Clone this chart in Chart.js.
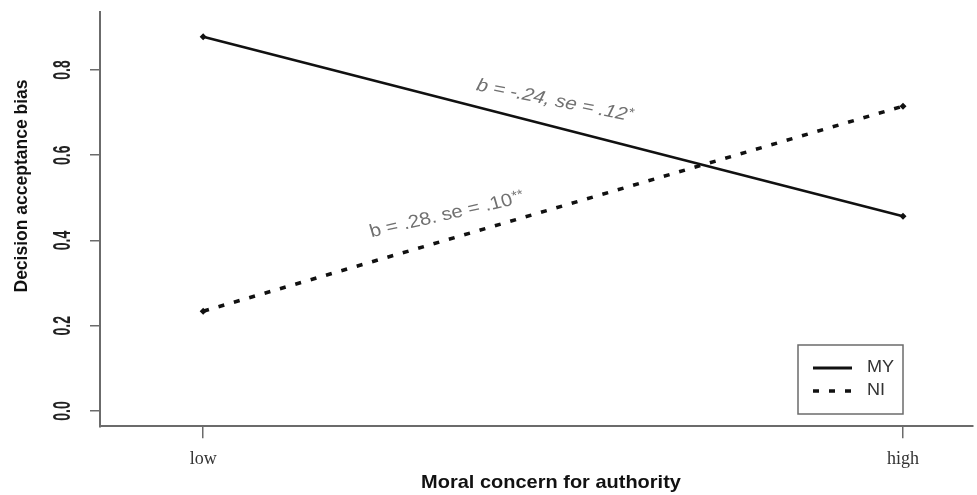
<!DOCTYPE html>
<html>
<head>
<meta charset="utf-8">
<script src="https://cdn.jsdelivr.net/npm/chart.js@4"></script>
<style>
  html, body { margin: 0; padding: 0; background: #ffffff; }
  #wrap { width: 977px; height: 495px; position: relative; }
</style>
</head>
<body>
<div id="wrap"><canvas id="c"></canvas></div>
<script>
// Simple slopes of decision acceptance bias at low / high moral concern for authority
const categories = ['low', 'high'];
const seriesNames = ['MY', 'NI'];
const myValues = [0.878, 0.457];
const niValues = [0.234, 0.715];
const yTickValues = [0.0, 0.2, 0.4, 0.6, 0.8];
const slopeTexts = ['b = -.24, se = .12', 'b = .28. se = .10'];
const slopeStars = ['*', '**'];
const xTitle = 'Moral concern for authority';
const yTitle = 'Decision acceptance bias';

const SANS = '"Liberation Sans", Arial, Helvetica, sans-serif';
const SERIF = '"Liberation Serif", "Times New Roman", Times, serif';
const AXIS_GREY = '#6b6b6b';
const SX = 1.13; // horizontal text widening used throughout the figure

function toPoints(values) {
  return values.map((v, i) => ({ x: i + 1, y: v }));
}

// Draws axis titles, rotated y tick labels, slope notes and the legend box
const figureText = {
  id: 'figureText',
  afterDraw(chart, args, opts) {
    const ctx = chart.ctx;
    const xs = chart.scales.x;
    const ys = chart.scales.y;

    // y tick labels, rotated and drawn tall
    ctx.save();
    ctx.fillStyle = '#222';
    ctx.font = 'bold 14px ' + SANS;
    ctx.textAlign = 'center';
    ctx.textBaseline = 'middle';
    ys.ticks.forEach(t => {
      const py = ys.getPixelForValue(t.value);
      ctx.save();
      ctx.translate(opts.yTickX, py);
      ctx.rotate(-Math.PI / 2);
      ctx.scale(1, 1.7);
      ctx.fillText(t.value.toFixed(1), 0, 0);
      ctx.restore();
    });
    ctx.restore();

    // y axis title
    ctx.save();
    ctx.fillStyle = '#111';
    ctx.font = 'bold 17.5px ' + SANS;
    ctx.textAlign = 'center';
    ctx.textBaseline = 'middle';
    ctx.translate(opts.yTitleX, opts.yTitleY);
    ctx.rotate(-Math.PI / 2);
    ctx.fillText(yTitle, 0, 0);
    ctx.restore();

    // x axis title
    ctx.save();
    ctx.fillStyle = '#111';
    ctx.font = 'bold 17.7px ' + SANS;
    ctx.textAlign = 'center';
    ctx.textBaseline = 'middle';
    ctx.translate(opts.xTitleX, opts.xTitleY);
    ctx.scale(SX, 1);
    ctx.fillText(xTitle, 0, 0);
    ctx.restore();

    // slope notes along each line
    opts.notes.forEach((n, i) => {
      const vals = chart.data.datasets[n.dataset].data;
      const p0x = xs.getPixelForValue(vals[0].x), p0y = ys.getPixelForValue(vals[0].y);
      const p1x = xs.getPixelForValue(vals[1].x), p1y = ys.getPixelForValue(vals[1].y);
      const yv = vals[0].y + (vals[1].y - vals[0].y) * (n.at - vals[0].x) / (vals[1].x - vals[0].x);
      const cx = xs.getPixelForValue(n.at);
      const cy = ys.getPixelForValue(yv) - n.lift;
      const angImg = Math.atan2(p1y - p0y, p1x - p0x);
      const ang = Math.atan(Math.tan(angImg) / SX);
      const style = n.italic ? 'italic ' : '';
      const mainFont = style + '18px ' + SANS;
      const starFont = style + '13px ' + SANS;
      ctx.save();
      ctx.fillStyle = '#707070';
      ctx.textBaseline = 'middle';
      ctx.textAlign = 'left';
      ctx.translate(cx, cy);
      ctx.scale(SX, 1);
      ctx.rotate(ang);
      ctx.font = mainFont;
      const w1 = ctx.measureText(slopeTexts[i]).width;
      ctx.font = starFont;
      const w2 = ctx.measureText(slopeStars[i]).width;
      const start = -(w1 + w2) / 2;
      ctx.font = mainFont;
      ctx.fillText(slopeTexts[i], start, 0);
      ctx.font = starFont;
      ctx.fillText(slopeStars[i], start + w1 + 0.5, -3);
      ctx.restore();
    });

    // legend box
    const lg = opts.legend;
    ctx.save();
    ctx.fillStyle = '#ffffff';
    ctx.fillRect(lg.x, lg.y, lg.w, lg.h);
    ctx.strokeStyle = AXIS_GREY;
    ctx.lineWidth = 1.5;
    ctx.strokeRect(lg.x, lg.y, lg.w, lg.h);
    chart.data.datasets.forEach((ds, i) => {
      const yy = lg.y + lg.firstRow + i * lg.rowGap;
      ctx.save();
      ctx.strokeStyle = ds.borderColor;
      ctx.lineWidth = ds.legendWidth;
      ctx.lineCap = 'butt';
      ctx.setLineDash(ds.borderDash || []);
      ctx.beginPath();
      ctx.moveTo(lg.x + lg.lineStart, yy);
      ctx.lineTo(lg.x + lg.lineStart + lg.lineLen, yy);
      ctx.stroke();
      ctx.restore();
      ctx.save();
      ctx.fillStyle = '#333';
      ctx.font = '16px ' + SANS;
      ctx.textAlign = 'left';
      ctx.textBaseline = 'middle';
      ctx.translate(lg.x + lg.textStart, yy);
      ctx.scale(SX, 1);
      ctx.fillText(ds.label, 0, 0);
      ctx.restore();
    });
    ctx.restore();
  }
};

const chart = new Chart(document.getElementById('c'), {
  type: 'line',
  data: {
    datasets: [
      {
        label: seriesNames[0],
        data: toPoints(myValues),
        borderColor: '#111111',
        backgroundColor: '#111111',
        borderWidth: 2.5,
        legendWidth: 3,
        pointStyle: 'rectRot',
        pointRadius: 3.5,
        pointBackgroundColor: '#111111',
        pointBorderWidth: 0,
        tension: 0
      },
      {
        label: seriesNames[1],
        data: toPoints(niValues),
        borderColor: '#111111',
        backgroundColor: '#111111',
        borderWidth: 3.5,
        legendWidth: 3.5,
        borderDash: [6, 10],
        borderCapStyle: 'butt',
        pointStyle: 'rectRot',
        pointRadius: 3.5,
        pointBackgroundColor: '#111111',
        pointBorderWidth: 0,
        tension: 0
      }
    ]
  },
  options: {
    responsive: true,
    maintainAspectRatio: false,
    animation: false,
    layout: { padding: { left: 90, top: 12, right: 0, bottom: 15.7 } },
    plugins: {
      legend: { display: false },
      tooltip: { enabled: false },
      figureText: {
        yTickX: 63,
        yTitleX: 22,
        yTitleY: 186,
        xTitleX: 551,
        xTitleY: 483,
        notes: [
          { dataset: 0, at: 1.502, lift: 26, italic: true },
          { dataset: 1, at: 1.348, lift: 25, italic: false }
        ],
        legend: { x: 798, y: 345, w: 105, h: 69, firstRow: 23, rowGap: 23, lineStart: 15, lineLen: 39, textStart: 69 }
      }
    },
    scales: {
      x: {
        type: 'linear',
        min: 0.8526,
        max: 2.1,
        afterBuildTicks: s => { s.ticks = categories.map((c, i) => ({ value: i + 1 })); },
        ticks: {
          padding: 9.7,
          color: '#333',
          font: { family: SERIF, size: 18 },
          maxRotation: 0,
          callback: v => categories[Math.round(v) - 1]
        },
        grid: { drawOnChartArea: false, drawTicks: true, tickLength: 12, color: AXIS_GREY, lineWidth: 1.5 },
        border: { display: true, color: AXIS_GREY, width: 2 }
      },
      y: {
        type: 'linear',
        min: -0.036,
        max: 0.936,
        afterBuildTicks: s => { s.ticks = yTickValues.map(v => ({ value: v })); },
        ticks: { display: false },
        grid: { drawOnChartArea: false, drawTicks: true, tickLength: 10, color: AXIS_GREY, lineWidth: 1.5 },
        border: { display: true, color: AXIS_GREY, width: 2 }
      }
    }
  },
  plugins: [figureText]
});
</script>
</body>
</html>
